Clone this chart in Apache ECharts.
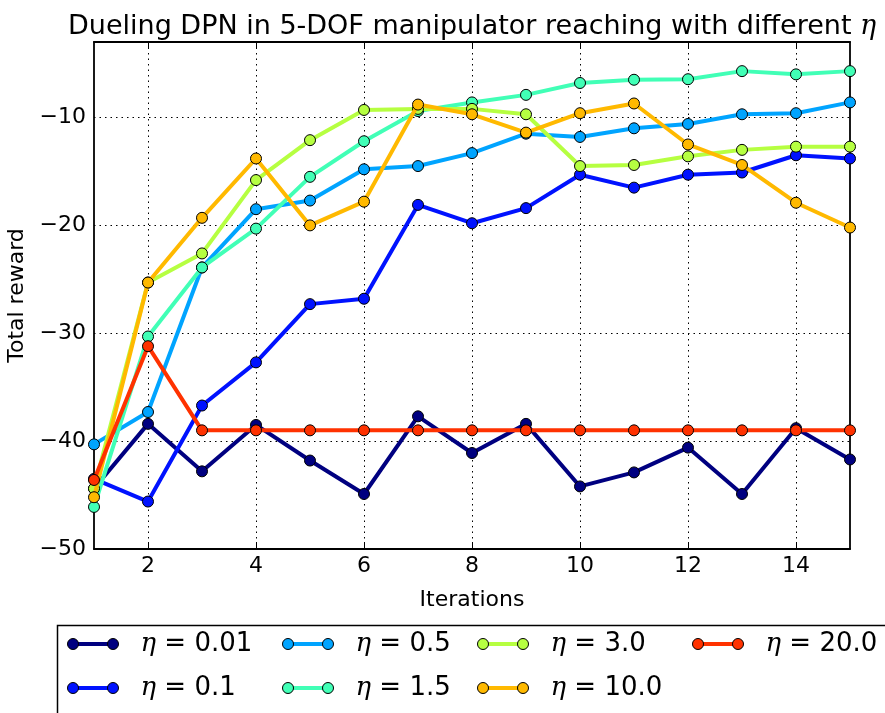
<!DOCTYPE html>
<html>
<head>
<meta charset="utf-8">
<script src="https://cdn.jsdelivr.net/npm/echarts@6/dist/echarts.min.js"></script>
<style>
  html, body { margin: 0; padding: 0; background: #fff; }
  #chart { width: 885px; height: 713px; }
</style>
</head>
<body>
<div id="chart"></div>
<script>
// Iterations on the x axis
const iterations = [1, 2, 3, 4, 5, 6, 7, 8, 9, 10, 11, 12, 13, 14, 15];

// Total reward per eta setting
const eta001 = [-44.4, -38.4, -42.8, -38.5, -41.8, -44.9, -37.7, -41.1, -38.4, -44.2, -42.9, -40.6, -44.9, -38.8, -41.7];
const eta01  = [-43.5, -45.6, -36.7, -32.7, -27.3, -26.8, -18.1, -19.8, -18.4, -15.3, -16.5, -15.3, -15.1, -13.5, -13.8];
const eta05  = [-40.3, -37.3, -23.9, -18.5, -17.7, -14.8, -14.5, -13.3, -11.5, -11.8, -11.0, -10.6, -9.7, -9.6, -8.6];
const eta15  = [-46.1, -30.3, -23.9, -20.3, -15.5, -12.2, -9.4, -8.6, -7.9, -6.8, -6.5, -6.45, -5.7, -6.0, -5.7];
const eta30  = [-44.4, -25.3, -22.6, -15.8, -12.1, -9.3, -9.2, -9.2, -9.7, -14.5, -14.4, -13.6, -13.0, -12.7, -12.7];
const eta100 = [-45.2, -25.3, -19.3, -13.8, -20.0, -17.8, -8.8, -9.7, -11.4, -9.6, -8.7, -12.5, -14.4, -17.9, -20.2];
const eta200 = [-43.6, -31.2, -39.0, -39.0, -39.0, -39.0, -39.0, -39.0, -39.0, -39.0, -39.0, -39.0, -39.0, -39.0, -39.0];

const seriesNames = ['η = 0.01', 'η = 0.1', 'η = 0.5', 'η = 1.5', 'η = 3.0', 'η = 10.0', 'η = 20.0'];
const seriesValues = [eta001, eta01, eta05, eta15, eta30, eta100, eta200];
const seriesColors = ['#000080', '#0012ff', '#00a4ff', '#41ffb6', '#b6ff41', '#ffb900', '#ff3200'];

// y ticks
const yTicks = [-50, -40, -30, -20, -10];

const chart = echarts.init(document.getElementById('chart'), null, { renderer: 'canvas' });

const SANS = 'DejaVu Sans';
const SERIF = 'DejaVu Serif';
const dotted = { color: '#000', width: 1, type: [1.5, 4] };
const evenOnly = (i, v) => Number(v) % 2 === 0;
const minus = v => (v < 0 ? '\u2212' + Math.abs(v) : String(v));

// legend: four columns, each a pair of legends (coloured bar underneath, two ringed dots on top)
const legendColumns = [
  { left: 67, names: ['η = 0.01', 'η = 0.1'] },
  { left: 282, names: ['η = 0.5', 'η = 1.5'] },
  { left: 477, names: ['η = 3.0', 'η = 10.0'] },
  { left: 692, names: ['η = 20.0'] }
];
const legendText = (color) => ({
  color: color,
  fontFamily: SANS,
  fontSize: 26,
  lineHeight: 30,
  rich: {
    e: { fontFamily: SERIF, fontStyle: 'italic', fontSize: 26, lineHeight: 30, color: color, padding: [0, 0, 0, 17] },
    t: { fontFamily: SANS, fontSize: 26, lineHeight: 30, color: color }
  }
});
const legendFmt = name => '{e|η}{t|' + name.slice(1) + '}';
const dotsIcon = 'path://M0,5.5a5.5,5.5 0 1,0 11,0a5.5,5.5 0 1,0 -11,0M40,5.5a5.5,5.5 0 1,0 11,0a5.5,5.5 0 1,0 -11,0';

const legends = [];
legendColumns.forEach(col => {
  legends.push({
    orient: 'vertical', left: col.left + 5, top: 629, padding: 0, itemGap: 14,
    itemWidth: 41, itemHeight: 4, icon: 'rect', selectedMode: false,
    itemStyle: { borderWidth: 0 },
    data: col.names, formatter: legendFmt, textStyle: legendText('rgba(0,0,0,0)'), z: 4
  });
  legends.push({
    orient: 'vertical', left: col.left, top: 629, padding: 0, itemGap: 14,
    itemWidth: 51, itemHeight: 11, icon: dotsIcon, selectedMode: false,
    itemStyle: { borderColor: '#000', borderWidth: 1 },
    data: col.names, formatter: legendFmt, textStyle: legendText('#000'), z: 5
  });
});

const option = {
  animation: false,
  backgroundColor: '#fff',
  title: {
    text: '{a|Dueling DPN in 5-DOF manipulator reaching with different }{e|η}',
    left: 63, top: 8,
    textStyle: {
      fontWeight: 'normal',
      rich: {
        a: { fontFamily: SANS, fontSize: 27, fontWeight: 'normal', color: '#000' },
        e: { fontFamily: SERIF, fontStyle: 'italic', fontWeight: 'normal', fontSize: 27, color: '#000' }
      }
    }
  },
  grid: { left: 94, right: 35, top: 42, bottom: 164, containLabel: false, outerBoundsMode: 'none' },
  legend: legends,
  graphic: [{
    type: 'rect', left: 55, top: 623, z: 3, silent: true,
    shape: { width: 900, height: 200 },
    style: { fill: 'none', stroke: '#000', lineWidth: 1.5 }
  }],
  xAxis: [{
    type: 'category', data: iterations, boundaryGap: false, position: 'bottom',
    name: 'Iterations', nameLocation: 'middle', nameGap: 40,
    nameTextStyle: { fontFamily: SANS, fontSize: 22, color: '#000' },
    axisLine: { lineStyle: { color: '#000', width: 1.8 } },
    axisTick: { inside: true, length: 7, interval: evenOnly, lineStyle: { color: '#000', width: 1 } },
    axisLabel: { interval: evenOnly, margin: 6, fontFamily: SANS, fontSize: 22, color: '#000' },
    splitLine: { show: true, interval: evenOnly, lineStyle: dotted }
  }, {
    type: 'category', data: iterations, boundaryGap: false, position: 'top',
    axisLine: { lineStyle: { color: '#000', width: 1.8 } },
    axisTick: { inside: true, length: 7, interval: evenOnly, lineStyle: { color: '#000', width: 1 } },
    axisLabel: { show: false },
    splitLine: { show: false }
  }],
  yAxis: [{
    type: 'value', min: -50, max: -3, interval: 10, position: 'left',
    name: 'Total reward', nameLocation: 'middle', nameGap: 54,
    nameTextStyle: { fontFamily: SANS, fontSize: 22, color: '#000' },
    axisLine: { show: true, lineStyle: { color: '#000', width: 1.8 } },
    axisTick: { inside: true, length: 7, lineStyle: { color: '#000', width: 1 } },
    axisLabel: {
      margin: 8, fontFamily: SANS, fontSize: 22, color: '#000',
      showMaxLabel: false,
      formatter: v => (yTicks.indexOf(v) >= 0 ? minus(v) : '')
    },
    splitLine: { show: true, lineStyle: dotted }
  }, {
    type: 'value', min: -50, max: -3, interval: 10, position: 'right',
    axisLine: { show: true, lineStyle: { color: '#000', width: 1.8 } },
    axisTick: { inside: true, length: 7, lineStyle: { color: '#000', width: 1 } },
    axisLabel: { show: false },
    splitLine: { show: false }
  }],
  series: seriesNames.map((name, i) => ({
    name: name,
    type: 'line',
    xAxisIndex: 0, yAxisIndex: 0,
    data: seriesValues[i],
    symbol: 'circle',
    symbolSize: 11,
    showAllSymbol: true,
    clip: false,
    lineStyle: { color: seriesColors[i], width: 4 },
    itemStyle: { color: seriesColors[i], borderColor: '#000', borderWidth: 1 },
    emphasis: { disabled: true },
    z: 2 + i * 0.01
  }))
};

chart.setOption(option);
</script>
</body>
</html>
